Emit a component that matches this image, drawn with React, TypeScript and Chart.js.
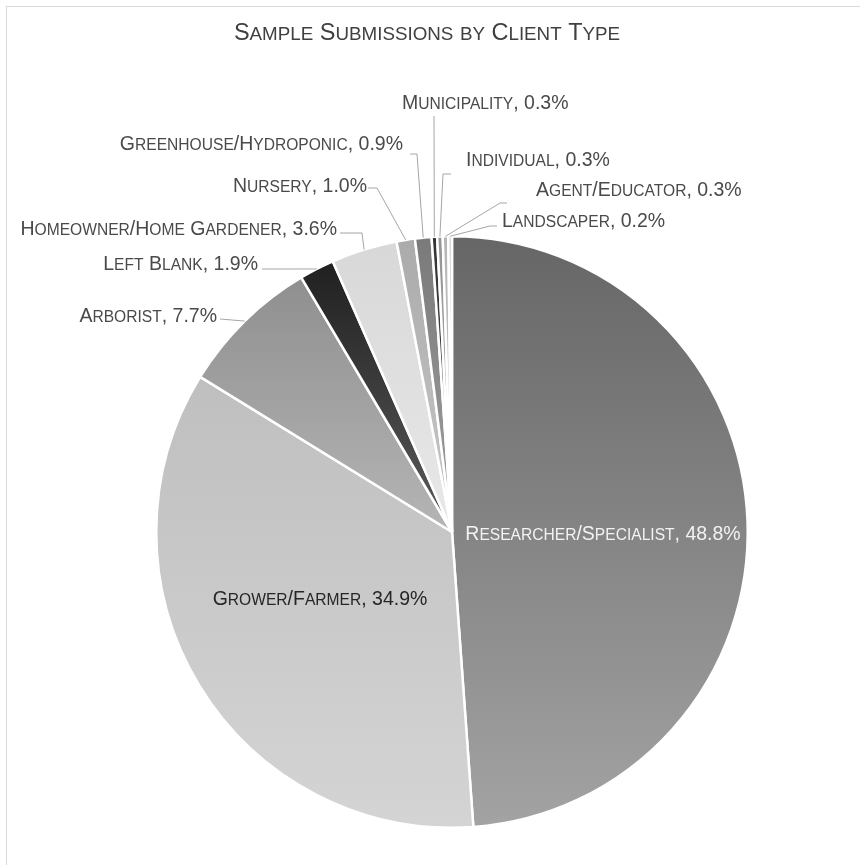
import React, { useEffect, useRef } from "react";
import { Chart, registerables } from "chart.js";

Chart.register(...registerables);

// ---------- data ----------
const titleText = "Sample Submissions by Client Type";
const categories = [
  "Researcher/Specialist",
  "Grower/Farmer",
  "Arborist",
  "Left Blank",
  "Homeowner/Home Gardener",
  "Nursery",
  "Greenhouse/Hydroponic",
  "Municipality",
  "Individual",
  "Agent/Educator",
  "Landscaper",
];
const shares = [48.8, 34.9, 7.7, 1.9, 3.6, 1.0, 0.9, 0.3, 0.3, 0.3, 0.2];

// ---------- style ----------
const topColors = ["#666666", "#bfbfbf", "#8f8f8f", "#202020", "#d8d8d8", "#ababab", "#7a7a7a", "#333333", "#959595", "#b5b5b5", "#cdcdcd"];
const bottomColors = ["#a3a3a3", "#d4d4d4", "#b5b5b5", "#5c5c5c", "#e8e8e8", "#c8c8c8", "#a0a0a0", "#555555", "#b0b0b0", "#cccccc", "#dedede"];

const FONT = "'Liberation Sans', Arial, sans-serif";
const LABEL_SIZE = 19.5;
const TITLE_SIZE = 23.5;
const SMALL_RATIO = 0.8;
const OUT_COLOR = "#4a4a4a";

type Align = "left" | "right" | "center";
interface LabelLayout {
  dx: number;
  dy: number;
  align: Align;
  color: string;
  leader?: [number, number][];
}
// offsets relative to the pie centre
const labelLayout: LabelLayout[] = [
  { dx: 151, dy: 1, align: "center", color: "#f2f2f2" },
  { dx: -132, dy: 66, align: "center", color: "#262626" },
  { dx: -235, dy: -217, align: "right", color: OUT_COLOR, leader: [[-232, -213]] },
  { dx: -194, dy: -269, align: "right", color: OUT_COLOR, leader: [[-190, -263]] },
  { dx: -115, dy: -304, align: "right", color: OUT_COLOR, leader: [[-112, -299], [-90, -299]] },
  { dx: -85, dy: -347, align: "right", color: OUT_COLOR, leader: [[-84, -344], [-75, -344]] },
  { dx: -49, dy: -389, align: "right", color: OUT_COLOR, leader: [[-42, -378], [-35, -378]] },
  { dx: -50, dy: -430, align: "left", color: OUT_COLOR, leader: [[-18, -416]] },
  { dx: 14, dy: -373, align: "left", color: OUT_COLOR, leader: [[-1, -358], [-9, -358]] },
  { dx: 84, dy: -343, align: "left", color: OUT_COLOR, leader: [[55, -329], [48, -329]] },
  { dx: 50, dy: -312, align: "left", color: OUT_COLOR, leader: [[45, -306], [38, -306]] },
];

function drawSmallCaps(
  ctx: CanvasRenderingContext2D,
  text: string,
  x: number,
  cy: number,
  size: number,
  align: Align,
  color: string
) {
  const small = size * SMALL_RATIO;
  const runs: { t: string; s: number }[] = [];
  for (const ch of text) {
    const lower = ch !== ch.toUpperCase();
    const s = lower ? small : size;
    const c = lower ? ch.toUpperCase() : ch;
    if (runs.length && runs[runs.length - 1].s === s) runs[runs.length - 1].t += c;
    else runs.push({ t: c, s });
  }
  let total = 0;
  const widths: number[] = [];
  for (const r of runs) {
    ctx.font = `${r.s}px ${FONT}`;
    const w = ctx.measureText(r.t).width;
    widths.push(w);
    total += w;
  }
  let sx = x;
  if (align === "center") sx = x - total / 2;
  else if (align === "right") sx = x - total;
  const baseline = cy + (size * 0.716) / 2;
  ctx.fillStyle = color;
  ctx.textAlign = "left";
  ctx.textBaseline = "alphabetic";
  runs.forEach((r, i) => {
    ctx.font = `${r.s}px ${FONT}`;
    ctx.fillText(r.t, sx, baseline);
    sx += widths[i];
  });
}

function sliceGradient(chart: any, index: number) {
  const area = chart.chartArea;
  if (!area) return topColors[index];
  const cx = (area.left + area.right) / 2;
  const cy = (area.top + area.bottom) / 2;
  const R = (Math.min(area.right - area.left, area.bottom - area.top) - 2) / 2;
  const total = shares.reduce((a, b) => a + b, 0);
  let cum = 0;
  for (let i = 0; i < index; i++) cum += shares[i];
  const a0 = -Math.PI / 2 + (2 * Math.PI * cum) / total;
  const a1 = a0 + (2 * Math.PI * shares[index]) / total;
  const ys = [cy, cy + R * Math.sin(a0), cy + R * Math.sin(a1)];
  for (const k of [-Math.PI / 2, Math.PI / 2, (3 * Math.PI) / 2]) {
    if (k > a0 && k < a1) ys.push(cy + R * Math.sin(k));
  }
  const y0 = Math.min(...ys);
  const y1 = Math.max(...ys);
  const g = chart.ctx.createLinearGradient(0, y0, 0, y1 === y0 ? y0 + 1 : y1);
  g.addColorStop(0, topColors[index]);
  g.addColorStop(1, bottomColors[index]);
  return g;
}

const framePlugin = {
  id: "frame",
  beforeDraw(chart: any) {
    const ctx = chart.ctx as CanvasRenderingContext2D;
    ctx.save();
    ctx.fillStyle = "#ffffff";
    ctx.fillRect(0, 0, chart.width, chart.height);
    ctx.strokeStyle = "#d9d9d9";
    ctx.lineWidth = 1;
    ctx.strokeRect(6.5, 6.5, chart.width + 20, chart.height + 20);
    drawSmallCaps(ctx, titleText, 427, 32, TITLE_SIZE, "center", "#404040");
    ctx.restore();
  },
};

const labelPlugin = {
  id: "sliceLabels",
  afterDatasetsDraw(chart: any) {
    const ctx = chart.ctx as CanvasRenderingContext2D;
    const meta = chart.getDatasetMeta(0);
    ctx.save();
    meta.data.forEach((arc: any, i: number) => {
      const lay = labelLayout[i];
      if (!lay) return;
      const { x, y, startAngle, endAngle, outerRadius } = arc.getProps(
        ["x", "y", "startAngle", "endAngle", "outerRadius"],
        true
      );
      const mid = (startAngle + endAngle) / 2;
      if (lay.leader) {
        ctx.strokeStyle = "#a6a6a6";
        ctx.lineWidth = 1;
        ctx.beginPath();
        lay.leader.forEach((p, k) => {
          if (k === 0) ctx.moveTo(x + p[0], y + p[1]);
          else ctx.lineTo(x + p[0], y + p[1]);
        });
        ctx.lineTo(x + outerRadius * Math.cos(mid), y + outerRadius * Math.sin(mid));
        ctx.stroke();
      }
      const text = `${categories[i]}, ${shares[i].toFixed(1)}%`;
      drawSmallCaps(ctx, text, x + lay.dx, y + lay.dy, LABEL_SIZE, lay.align, lay.color);
    });
    ctx.restore();
  },
};

export default function App() {
  const canvasRef = useRef<HTMLCanvasElement | null>(null);

  useEffect(() => {
    document.body.style.margin = "0";
    const canvas = canvasRef.current;
    if (!canvas) return;
    const chart = new Chart(canvas, {
      type: "pie",
      data: {
        labels: categories,
        datasets: [
          {
            data: shares,
            backgroundColor: (c: any) => sliceGradient(c.chart, c.dataIndex),
            borderColor: "#ffffff",
            borderWidth: 2.5,
          },
        ],
      },
      options: {
        responsive: false,
        animation: false,
        devicePixelRatio: 1,
        layout: { padding: { left: 155, right: 111, top: 235, bottom: 36 } },
        plugins: {
          legend: { display: false },
          tooltip: { enabled: false },
          title: { display: false },
        },
      },
      plugins: [framePlugin, labelPlugin],
    });
    return () => chart.destroy();
  }, []);

  return (
    <div style={{ width: 860, height: 865, position: "relative" }}>
      <canvas ref={canvasRef} width={860} height={865} style={{ display: "block" }} />
    </div>
  );
}
